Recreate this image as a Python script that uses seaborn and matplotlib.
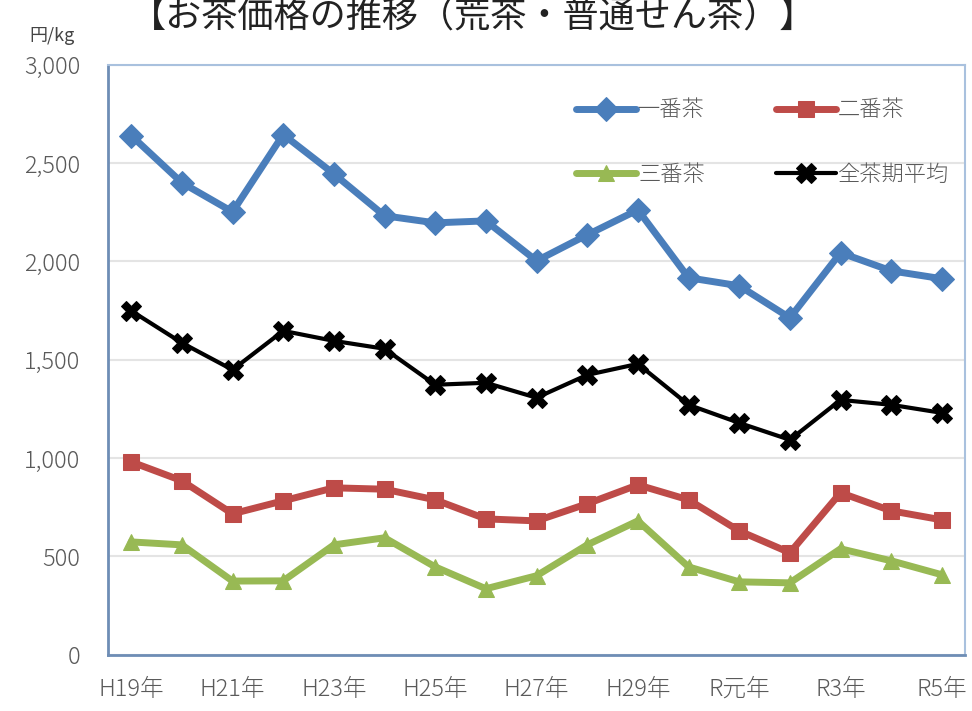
import numpy as np
import pandas as pd
import matplotlib
matplotlib.use("Agg")
import matplotlib.pyplot as plt
import seaborn as sns

# data (円/kg)
years = ["H19年", "H20年", "H21年", "H22年", "H23年", "H24年", "H25年", "H26年", "H27年",
         "H28年", "H29年", "H30年", "R元年", "R2年", "R3年", "R4年", "R5年"]
ichiban = [2640, 2400, 2252, 2645, 2445, 2232, 2196, 2206, 2003, 2135, 2262, 1917, 1876, 1713, 2044, 1952, 1912]
niban = [981, 885, 717, 783, 849, 842, 788, 691, 681, 768, 864, 788, 630, 519, 824, 732, 686]
sanban = [574, 559, 375, 376, 559, 595, 447, 336, 402, 559, 681, 447, 371, 366, 539, 478, 407]
heikin = [1749, 1586, 1449, 1647, 1596, 1556, 1373, 1383, 1307, 1423, 1479, 1271, 1179, 1093, 1296, 1271, 1230]

sns.set_theme(style="white")
plt.rcParams['font.family'] = ['Noto Sans CJK JP', 'DejaVu Sans']

df = pd.DataFrame({"x": np.arange(len(years)), "一番茶": ichiban, "二番茶": niban,
                   "三番茶": sanban, "全茶期平均": heikin})

fig = plt.figure(figsize=(9.72, 7.11), dpi=100)
ax = fig.add_axes([0.111, 0.079, 0.882, 0.83])

styles = [
    ("一番茶", "#4A7EBB", "D", 5, 12),
    ("二番茶", "#BE4B48", "s", 5, 12),
    ("三番茶", "#98B954", "^", 5, 12),
    ("全茶期平均", "#000000", "X", 3, 14),
]
for name, col, mk, lw, ms in styles:
    sns.lineplot(data=df, x="x", y=name, ax=ax, color=col, marker=mk, linewidth=lw,
                 markersize=ms, markeredgecolor=col, label=name)

ax.set_ylim(0, 3000)
ax.set_xlim(-0.46, len(years) - 0.54)
ax.set_yticks(range(0, 3001, 500))
ax.set_yticklabels([f"{v:,}" for v in range(0, 3001, 500)])
ax.set_xticks(range(0, len(years), 2))
ax.set_xticklabels(years[::2])
ax.tick_params(axis="both", labelsize=17, labelcolor="#5A5A5A", length=0)
ax.tick_params(axis="y", pad=20)
ax.tick_params(axis="x", pad=16)
for t in ax.get_xticklabels() + ax.get_yticklabels():
    t.set_fontweight("light")
ax.set_xlabel("")
ax.set_ylabel("")
ax.grid(axis="y", color="#E4E4E4", linewidth=1.5)

for side in ["top", "right"]:
    ax.spines[side].set_color("#A9C1DE")
    ax.spines[side].set_linewidth(1.5)
for side in ["left", "bottom"]:
    ax.spines[side].set_color("#6E8DB5")
    ax.spines[side].set_linewidth(2)

# legend filled row by row: 一番茶 二番茶 / 三番茶 全茶期平均
h, l = ax.get_legend_handles_labels()
order = [0, 2, 1, 3]
ax.legend([h[i] for i in order], [l[i] for i in order], loc="upper right", ncol=2,
          frameon=False, bbox_to_anchor=(1.005, 0.975), handlelength=2.7,
          handletextpad=0.1, columnspacing=3.2, labelspacing=1.9, labelcolor="#5A5A5A",
          prop={"size": 16, "weight": "light"})

fig.text(0.03, 0.95, "円/kg", fontsize=13, color="#444444", ha="left", va="center")
fig.text(0.487, 0.975, "【お茶価格の推移（荒茶・普通せん茶）】", fontsize=26, color="#222222",
         ha="center", va="center")

fig.savefig("out.png", dpi=100, facecolor="white")
